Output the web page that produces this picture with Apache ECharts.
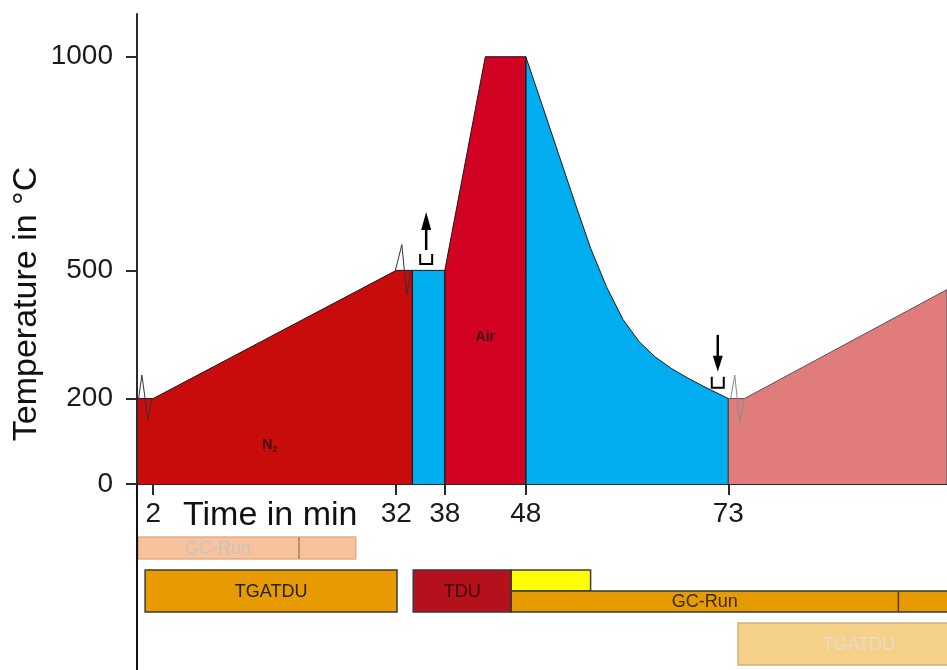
<!DOCTYPE html>
<html>
<head>
<meta charset="utf-8">
<script src="https://cdn.jsdelivr.net/npm/echarts@6/dist/echarts.min.js"></script>
<style>
  html, body { margin: 0; padding: 0; background: #fff; }
  #chart { width: 947px; height: 670px; }
</style>
</head>
<body>
<div id="chart"></div>
<script>
// ---- Temperature programme (time in min, temperature in °C) ----
const timeTicks = [2, 32, 38, 48, 73];
const tempTicks = [0, 200, 500, 1000];

const n2Profile      = [[0, 0], [0, 200], [2, 200], [32, 500], [34, 500], [34, 0]];
const purgeProfile   = [[34, 0], [34, 500], [38, 500], [38, 0]];
const airProfile     = [[38, 0], [38, 500], [43, 1000], [48, 1000], [48, 0]];
const coolProfile    = [[48, 0], [48, 1000], [50, 888], [52, 775], [54, 662], [56, 552],
                        [58, 460], [60, 385], [62, 333], [64, 297], [66, 270], [68, 248],
                        [70, 228], [73, 200], [73, 0]];
const reheatProfile  = [[73, 0], [73, 200], [75, 200], [100, 455], [100, 0]];

// axis-break marks on the profile
const breakAt2  = [[0.2, 200], [0.6, 255], [1.0, 200], [1.35, 150], [1.85, 200]];
const breakAt32 = [[31.9, 500], [32.7, 560], [33.0, 500], [33.3, 443], [33.8, 500]];
const breakAt73 = [[73.3, 200], [73.8, 255], [74.1, 200], [74.4, 143], [75.0, 200]];

// gas labels
const gasLabels = [[16.4, 91, 'N2'], [43, 344, 'Air']];

// valve switching markers: [time, temperature, direction]
const switchMarks = [[35.7, 515, 'up'], [71.7, 225, 'down']];

// ---- Schedule (time in min) ----
const taskLabels  = ['GC-Run', 'TGATDU', 'TDU', '', 'GC-Run', 'TGATDU'];
const taskStart   = [0, 1, 34.1, 46.2, 46.2, 74.2];
const taskEnd     = [27, 32.1, 46.2, 56, 104, 104];
const taskDivider = [20, null, null, null, 94, null];
const taskLane    = [0, 1, 1, 1, 1, 2];
const taskPart    = ['full', 'full', 'full', 'upper', 'lower', 'full'];
const taskKind    = ['gcFaded', 'tgatdu', 'tdu', 'desorb', 'gc', 'tgatduFaded'];

// lane bands in schedule-row units (1 unit = one full row)
const LANE_BANDS = [[1.262, 1.786], [2.048, 3.048], [3.31, 4.31]];
const TASK_STYLE = {
  gcFaded:     { fill: '#f7c39c', stroke: '#e2ae8a', divider: '#a88060', text: '#c9c3bd' },
  tgatdu:      { fill: '#e89b00', stroke: '#3a3a3a', divider: '#3a3a3a', text: '#222222' },
  tdu:         { fill: '#b5111d', stroke: '#3a3a3a', divider: '#3a3a3a', text: '#3a0505' },
  desorb:      { fill: '#ffff00', stroke: '#3a3a3a', divider: '#3a3a3a', text: '#222222' },
  gc:          { fill: '#e69b00', stroke: '#3a3a3a', divider: '#5a3a08', text: '#3a2a10' },
  tgatduFaded: { fill: '#f5d089', stroke: '#cfae78', divider: '#cfae78', text: '#e6dccb' }
};

const FONT = '"Liberation Sans", Arial, Helvetica, sans-serif';
const AXIS_COLOR = '#2a2a2a';

const chart = echarts.init(document.getElementById('chart'), null, { renderer: 'canvas' });

function profileSeries(data, color, lineColor) {
  return {
    type: 'line',
    xAxisIndex: 0, yAxisIndex: 0,
    data: data,
    symbol: 'none',
    silent: true,
    lineStyle: { color: lineColor || '#1a1a1a', width: 1 },
    areaStyle: { color: color, opacity: 1 },
    z: 2
  };
}

function breakSeries(data, color) {
  return {
    type: 'line',
    xAxisIndex: 0, yAxisIndex: 0,
    data: data,
    symbol: 'none',
    silent: true,
    lineStyle: { color: color, width: 1 },
    z: 4
  };
}

function renderSwitch(params, api) {
  const p = api.coord([api.value(0), api.value(1)]);
  const dir = switchMarks[params.dataIndex][2];
  const x = p[0], y = p[1];
  const children = [];
  const bracketH = dir === 'up' ? 10 : 11;
  children.push({
    type: 'polyline',
    shape: { points: [[x - 6, y - bracketH], [x - 6, y], [x + 6, y], [x + 6, y - bracketH]] },
    style: { stroke: '#000', lineWidth: 2, fill: null }
  });
  if (dir === 'up') {
    children.push({ type: 'line', shape: { x1: x, y1: y - 14, x2: x, y2: y - 36 },
      style: { stroke: '#000', lineWidth: 2.5 } });
    children.push({ type: 'polygon', shape: { points: [[x - 5, y - 34], [x + 5, y - 34], [x, y - 52]] },
      style: { fill: '#000' } });
  } else {
    children.push({ type: 'line', shape: { x1: x, y1: y - 53, x2: x, y2: y - 30 },
      style: { stroke: '#000', lineWidth: 2.5 } });
    children.push({ type: 'polygon', shape: { points: [[x - 5, y - 32], [x + 5, y - 32], [x, y - 16]] },
      style: { fill: '#000' } });
  }
  return { type: 'group', children: children };
}

function renderTask(params, api) {
  const i = params.dataIndex;
  const band = LANE_BANDS[taskLane[i]];
  let top = band[0], bottom = band[1];
  const mid = (top + bottom) / 2;
  if (taskPart[i] === 'upper') bottom = mid;
  if (taskPart[i] === 'lower') top = mid;
  const a = api.coord([taskStart[i], top]);
  const b = api.coord([taskEnd[i], bottom]);
  const cs = params.coordSys;
  // keep the bar clear of the axis line and trim it at the right edge
  const left = Math.max(a[0], cs.x + 1.5);
  const right = Math.min(b[0], cs.x + cs.width + 2);
  const st = TASK_STYLE[taskKind[i]];
  const children = [{
    type: 'rect',
    shape: { x: left, y: a[1], width: right - left, height: b[1] - a[1] },
    style: { fill: st.fill, stroke: st.stroke, lineWidth: 1.5 }
  }];
  let textEnd = taskEnd[i];
  if (taskDivider[i] != null) {
    const d = api.coord([taskDivider[i], top]);
    children.push({
      type: 'line',
      shape: { x1: d[0], y1: a[1], x2: d[0], y2: b[1] },
      style: { stroke: st.divider, lineWidth: 1.5 }
    });
    textEnd = taskDivider[i];
  }
  if (taskLabels[i]) {
    const c = api.coord([(taskStart[i] + textEnd) / 2, (top + bottom) / 2]);
    children.push({
      type: 'text',
      style: {
        text: taskLabels[i], x: c[0], y: c[1] + 1,
        align: 'center', verticalAlign: 'middle',
        font: '18px ' + FONT, fill: st.text
      }
    });
  }
  return { type: 'group', children: children };
}

const option = {
  animation: false,
  backgroundColor: '#ffffff',
  textStyle: { fontFamily: FONT },
  grid: [
    { left: 137, right: 0, top: 14, bottom: 186, containLabel: false },
    { left: 137, right: 0, top: 484, bottom: 0, containLabel: false }
  ],
  xAxis: [
    {
      type: 'value', gridIndex: 0, min: 0, max: 100,
      axisLine: { show: true, onZero: false, lineStyle: { color: AXIS_COLOR, width: 1 } },
      axisTick: { show: true, customValues: timeTicks, length: 11, inside: false,
                  lineStyle: { color: AXIS_COLOR, width: 2 } },
      axisLabel: { show: true, customValues: timeTicks, fontSize: 28, color: '#1a1a1a',
                   margin: 16, fontFamily: FONT, formatter: v => String(v) },
      splitLine: { show: false }
    },
    {
      type: 'value', gridIndex: 1, min: 0, max: 100, show: false
    }
  ],
  yAxis: [
    {
      type: 'value', gridIndex: 0, min: 0, max: 1100, z: 10,
      axisLine: { show: true, lineStyle: { color: AXIS_COLOR, width: 2 } },
      axisTick: { show: true, customValues: tempTicks, length: 11, inside: false,
                  lineStyle: { color: AXIS_COLOR, width: 2 } },
      axisLabel: { show: true, customValues: tempTicks, fontSize: 28, color: '#1a1a1a',
                   margin: 24, fontFamily: FONT, formatter: v => String(v) },
      splitLine: { show: false }
    },
    {
      type: 'value', gridIndex: 1, min: 0, max: 4.429, inverse: true, z: 10,
      axisLine: { show: true, onZero: false, lineStyle: { color: '#111111', width: 2 } },
      axisTick: { show: false }, axisLabel: { show: false }, splitLine: { show: false }
    }
  ],
  graphic: [
    {
      type: 'text', left: 183, top: 499, silent: true,
      style: { text: 'Time in min', font: '34px ' + FONT, fill: '#111' }
    },
    {
      type: 'text', silent: true, x: 27, y: 304, rotation: Math.PI / 2,
      style: { text: 'Temperature in °C', font: '34px ' + FONT, fill: '#111',
               align: 'center', verticalAlign: 'middle' }
    }
  ],
  series: [
    profileSeries(n2Profile, '#c80b0b'),
    profileSeries(purgeProfile, '#00aeef'),
    profileSeries(airProfile, '#d10222'),
    profileSeries(coolProfile, '#00aeef'),
    profileSeries(reheatProfile, '#e17c7c', '#555555'),
    breakSeries(breakAt2, '#333333'),
    breakSeries(breakAt32, '#333333'),
    breakSeries(breakAt73, '#8a8a8a'),
    {
      type: 'scatter',
      xAxisIndex: 0, yAxisIndex: 0,
      data: gasLabels.map(g => [g[0], g[1], g[2]]),
      symbolSize: 0,
      silent: true,
      z: 5,
      label: {
        show: true, position: 'inside',
        formatter: p => p.value[2] === 'N2' ? '{b|N}{s|2}' : '{b|' + p.value[2] + '}',
        rich: {
          b: { fontSize: 14, fontWeight: 'bold', color: '#111', fontFamily: FONT },
          s: { fontSize: 9, fontWeight: 'bold', color: '#111', fontFamily: FONT, padding: [8, 0, 0, 0] }
        }
      }
    },
    {
      type: 'custom',
      xAxisIndex: 0, yAxisIndex: 0,
      data: switchMarks.map(m => [m[0], m[1]]),
      renderItem: renderSwitch,
      silent: true,
      z: 6
    },
    {
      type: 'custom',
      xAxisIndex: 1, yAxisIndex: 1,
      data: taskStart.map((s, i) => [s, taskEnd[i], taskLane[i]]),
      renderItem: renderTask,
      silent: true,
      z: 1
    }
  ]
};

chart.setOption(option);
</script>
</body>
</html>
